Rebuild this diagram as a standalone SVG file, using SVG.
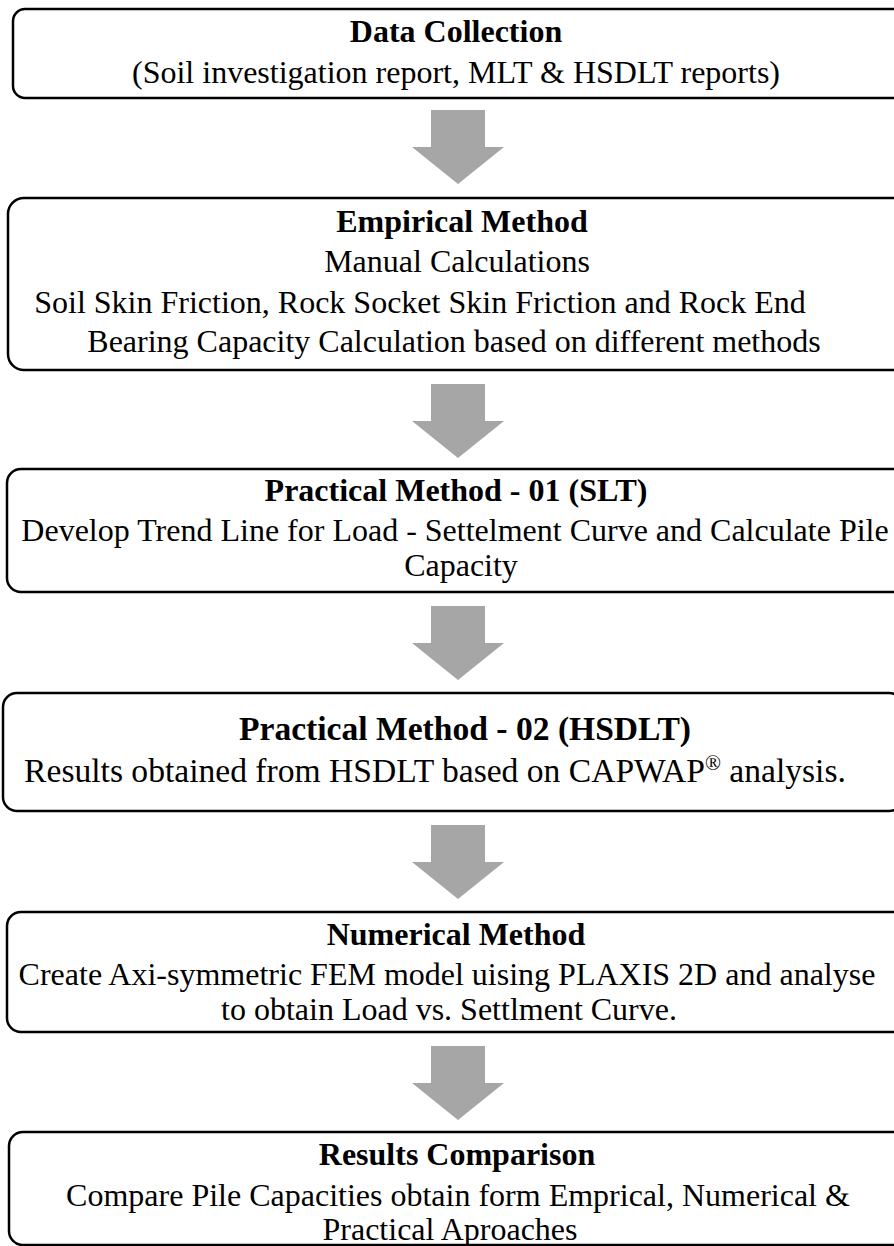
<svg xmlns="http://www.w3.org/2000/svg" width="894" height="1246" viewBox="0 0 894 1246">
  <style>
    .box { fill: #ffffff; stroke: #000000; stroke-width: 2.5; }
    .t { font-family: "Liberation Serif", "Times New Roman", serif; font-size: 32px; fill: #000000; text-anchor: middle; }
    .b { font-weight: bold; }
    .lg { font-size: 33.6px; }
    .arrow { fill: #a6a6a6; stroke: none; }
  </style>
  <defs>
    <!-- block arrow pointing down, origin at top centre of the shaft -->
    <path id="down" d="M-27,0 H27 V37 H46 L0,74 L-46,37 H-27 Z"/>
  </defs>
  <rect width="894" height="1246" fill="#ffffff"/>

  <g id="connectors">
    <use href="#down" class="arrow" x="458" y="110"/>
    <use href="#down" class="arrow" x="458" y="384"/>
    <use href="#down" class="arrow" x="458" y="606"/>
    <use href="#down" class="arrow" x="458" y="825"/>
    <use href="#down" class="arrow" x="458" y="1046"/>
  </g>

  <g id="data-collection">
    <rect class="box" x="13" y="9" width="900" height="89" rx="12"/>
    <text class="t b" x="456" y="42">Data Collection</text>
    <text class="t" x="456" y="83">(Soil investigation report, MLT &amp; HSDLT reports)</text>
  </g>

  <g id="empirical-method">
    <rect class="box" x="8" y="198" width="900" height="172" rx="16"/>
    <text class="t b" x="462" y="232">Empirical Method</text>
    <text class="t" x="457" y="272">Manual Calculations</text>
    <text class="t" x="420" y="313">Soil Skin Friction, Rock Socket Skin Friction and Rock End</text>
    <text class="t" x="454" y="352">Bearing Capacity Calculation based on different methods</text>
  </g>

  <g id="practical-method-01">
    <rect class="box" x="7" y="469" width="900" height="123" rx="14"/>
    <text class="t b" x="456" y="501">Practical Method - 01 (SLT)</text>
    <text class="t" x="455" y="541">Develop Trend Line for Load - Settelment Curve and Calculate Pile</text>
    <text class="t" x="461" y="576">Capacity</text>
  </g>

  <g id="practical-method-02">
    <rect class="box" x="3" y="693" width="900" height="118" rx="14"/>
    <text class="t b lg" x="465" y="740">Practical Method - 02 (HSDLT)</text>
    <text class="t lg" x="435" y="782">Results obtained from HSDLT based on CAPWAP<tspan style="font-size:21px" dy="-12">®</tspan><tspan dy="12"> analysis.</tspan></text>
  </g>

  <g id="numerical-method">
    <rect class="box" x="7" y="912" width="900" height="120" rx="14"/>
    <text class="t b" x="456" y="945">Numerical Method</text>
    <text class="t" x="447" y="985">Create Axi-symmetric FEM model uising PLAXIS 2D and analyse</text>
    <text class="t" x="449" y="1020">to obtain Load vs. Settlment Curve.</text>
  </g>

  <g id="results-comparison">
    <rect class="box" x="9" y="1132" width="900" height="113" rx="14"/>
    <text class="t b" x="457" y="1165">Results Comparison</text>
    <text class="t" x="458" y="1206">Compare Pile Capacities obtain form Emprical, Numerical &amp;</text>
    <text class="t" x="450" y="1240">Practical Aproaches</text>
  </g>
</svg>
